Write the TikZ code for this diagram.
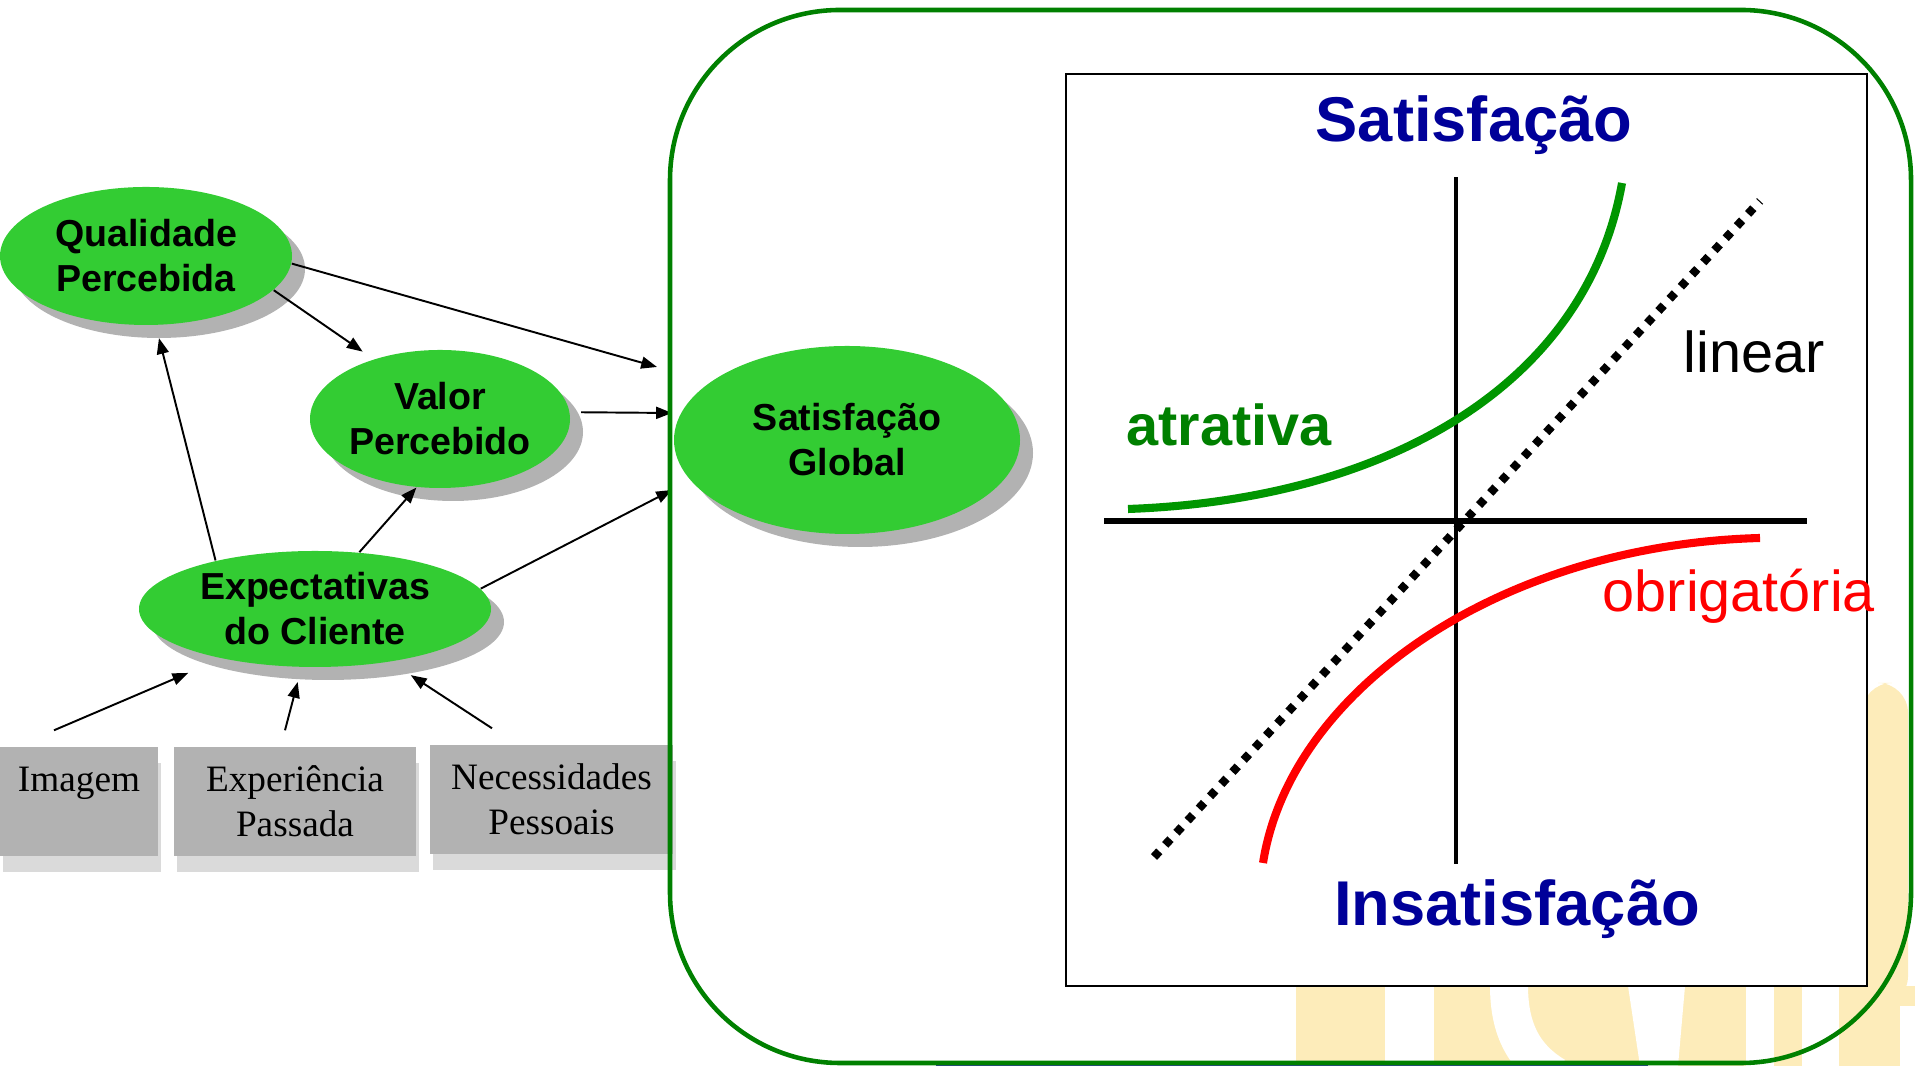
\documentclass[tikz,border=0pt]{standalone}
\usepackage{fontspec}
\setmainfont{Liberation Sans}
\newfontfamily\serifbox{Liberation Serif}
\usetikzlibrary{shapes.geometric,shadows,arrows.meta}

\definecolor{ballgreen}{RGB}{51,204,51}
\definecolor{framegreen}{RGB}{0,128,0}
\definecolor{curvegreen}{RGB}{0,150,0}
\definecolor{satblue}{RGB}{0,0,153}
\definecolor{shadowgray}{RGB}{178,178,178}
\definecolor{boxgray}{RGB}{178,178,178}
\definecolor{boxshadow}{RGB}{218,218,218}
\definecolor{logoyellow}{RGB}{253,236,186}

\begin{document}
\begin{tikzpicture}[
    ball/.style={ellipse, fill=ballgreen, inner sep=0pt, align=center,
        font=\fontsize{10.7}{12.8}\selectfont\bfseries,
        drop shadow={shadow xshift=0.13cm, shadow yshift=-0.13cm, fill=shadowgray, opacity=1}},
    factor/.style={rectangle, fill=boxgray, inner sep=0pt, align=center,
        minimum height=1.09cm, font=\serifbox\fontsize{10.6}{12.8}\selectfont,
        drop shadow={shadow xshift=0.03cm, shadow yshift=-0.16cm, fill=boxshadow, opacity=1}},
    link/.style={-{Triangle[length=4.5pt,width=3.4pt]}, line width=0.55pt},
    bigword/.style={inner sep=0pt, anchor=base, text=satblue,
        font=\fontsize{18}{20}\selectfont\bfseries},
    curvelabel/.style={inner sep=0pt, anchor=base west, font=\fontsize{16.4}{18}\selectfont}
]
\useasboundingbox (0,0) rectangle (19.15,10.66);

% faint logo in the corner
\fill[logoyellow] (12.96,0) rectangle (19.15,0.80);
\fill[logoyellow, rounded corners=0.3cm] (18.62,0.60) rectangle (19.08,3.83);
\fill[white] (13.85,0) rectangle (14.34,0.80);
\draw[white, line width=0.38cm] (15.09,0.80) .. controls (15.09,0.35) and (15.25,0.08) .. (15.55,-0.10);
\fill[white] (16.28,0.80) -- (16.85,0.80) -- (16.78,0) -- (16.40,0) -- cycle;
\fill[white] (17.46,0) rectangle (17.74,0.80);
\fill[white] (18.02,0) rectangle (18.39,0.80);
\fill[white] (19.00,0) rectangle (19.15,0.60);
\draw[satblue!80, line width=0.6pt] (9.36,0.01) -- (16.48,0.01);

% Kano chart
\draw[fill=white, line width=0.6pt] (10.66,0.80) rectangle (18.67,9.92);
\draw[line width=1.3pt] (14.56,2.02) -- (14.56,8.89);
\draw[line width=1.6pt] (11.04,5.45) -- (18.07,5.45);
\draw[curvegreen, line width=2.3pt] (11.28,5.57) .. controls (13.80,5.66) and (15.85,6.76) .. (16.22,8.83);
\draw[red, line width=2.3pt] (12.63,2.03) .. controls (12.90,3.76) and (15.00,5.21) .. (17.60,5.28);
\draw[line width=2.4pt, dash pattern=on 2.2pt off 2.5pt] (11.54,2.09) -- (17.60,8.65);

\node[bigword] (sat) at (14.74,9.24) {Satisfação};
\node[bigword] (insat) at (15.17,1.40) {Insatisfação};
\node[curvelabel, text=framegreen] (atr) at (11.26,6.20) {\bfseries atrativa};
\node[curvelabel] (lin) at (16.83,6.93) {linear};
\node[curvelabel, text=red] (obr) at (16.02,4.54) {obrigatória};

% factors
\node[factor, minimum width=1.58cm] (imagem) at (0.79,2.645) {Imagem\\\phantom{Passada}};
\node[factor, minimum width=2.42cm] (passada) at (2.95,2.645) {Experiência\\Passada};
\node[factor, minimum width=2.43cm] (pessoais) at (5.515,2.665) {Necessidades\\Pessoais};

% ellipses
\node[ball, minimum width=2.92cm, minimum height=1.38cm] (qual) at (1.46,8.10) {Qualidade\\Percebida};
\node[ball, minimum width=2.60cm, minimum height=1.38cm] (valor) at (4.40,6.47) {Valor\\Percebido};
\node[ball, minimum width=3.52cm, minimum height=1.16cm] (expect) at (3.15,4.57) {Expectativas\\do Cliente};
\node[ball, minimum width=3.46cm, minimum height=1.88cm] (global) at (8.47,6.26) {Satisfação\\Global};

% arrows
\coordinate (inA) at (6.57,6.99);
\coordinate (inB) at (6.72,6.53);
\coordinate (inC) at (6.72,5.76);

\draw[link] (qual.-3) -- (inA);
\draw[link, shorten >=1.3mm] (qual.-15) -- (valor.138);
\draw[link, shorten <=1.1mm] (valor.3) -- (inB);
\draw[link] (expect.7) -- (inC);
\draw[link] (expect.52) -- (valor.251);
\draw[link, shorten >=1.3mm] (expect.154) -- (qual.278);
\draw[link, shorten >=3.6mm] ([shift={(-0.25,0.16)}]imagem.north) -- (expect.208);
\draw[link, shorten >=1.5mm] ([shift={(-0.10,0.16)}]passada.north) -- (expect.257);
\draw[link, shorten >=2.4mm] ([shift={(-0.595,0.16)}]pessoais.north) -- (expect.325);

% frame
\draw[framegreen, line width=1.3pt, rounded corners=1.7cm] (6.70,0.03) rectangle (19.11,10.56);
\end{tikzpicture}
\end{document}
